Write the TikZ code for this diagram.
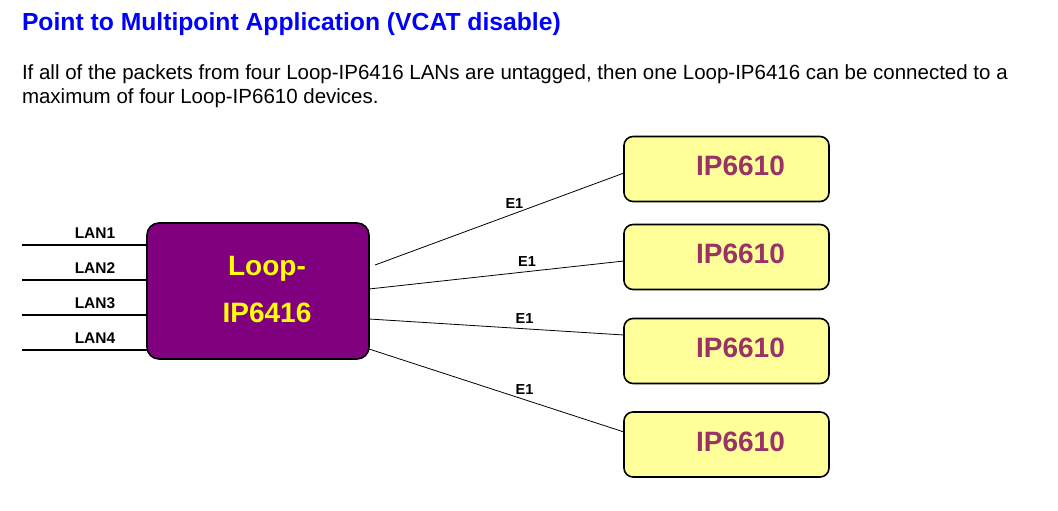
\documentclass[tikz,border=0pt]{standalone}
\usepackage{fontspec}
\setmainfont{Liberation Sans}
\usetikzlibrary{arrows,positioning}

\definecolor{titleblue}{RGB}{0,0,255}
\definecolor{loopviolet}{RGB}{128,0,128}
\definecolor{loopyellow}{RGB}{255,255,0}
\definecolor{ipyellow}{RGB}{255,255,153}
\definecolor{ipname}{RGB}{153,51,102}

\begin{document}
\begin{tikzpicture}[x=1pt,y=-1pt,
                    every node/.style={inner sep=0pt,outer sep=0pt},
                    loopbox/.style={draw,line width=1.6pt,rounded corners=12pt,fill=loopviolet,
                                    minimum width=222pt,minimum height=136pt},
                    ipbox/.style={draw,line width=1.6pt,rounded corners=9pt,fill=ipyellow,
                                  minimum width=205pt,minimum height=65pt},
                    iplabel/.style={text=ipname,font=\fontsize{28}{28}\selectfont\bfseries},
                    lanlabel/.style={anchor=base,font=\fontsize{15.5}{15.5}\selectfont\bfseries},
                    elabel/.style={above=5pt,font=\fontsize{14.5}{14.5}\selectfont\bfseries},
                    lanline/.style={line width=1.5pt},
                    eline/.style={line width=0.8pt}]
\useasboundingbox (0,0) rectangle (1058,511);

\node[anchor=base west,text=titleblue,font=\fontsize{24.7}{24.7}\selectfont\bfseries] (title) at (22,31)
  {Point to Multipoint Application (VCAT disable)};
\node[anchor=base west,font=\fontsize{20.5}{20.5}\selectfont] (intro1) at (22,80)
  {If all of the packets from four Loop-IP6416 LANs are untagged, then one Loop-IP6416 can be connected to a};
\node[anchor=base west,font=\fontsize{20.5}{20.5}\selectfont] (intro2) at (22,103.5)
  {maximum of four Loop-IP6610 devices.};

% main unit
\node[loopbox] (loop) at (258,291) {};
\node[text=loopyellow,align=center,font=\fontsize{28}{47}\selectfont\bfseries] (looptext) at (267,290)
  {Loop-\\IP6416};

% remote units
\node[ipbox] (ip1) at (726.5,169) {};
\node[ipbox] (ip2) at (726.5,257) {};
\node[ipbox] (ip3) at (726.5,351) {};
\node[ipbox] (ip4) at (726.5,444.5) {};
\node[iplabel] (ip1text) at ([xshift=14pt,yshift=3pt]ip1.center) {IP6610};
\node[iplabel] (ip2text) at ([xshift=14pt,yshift=3pt]ip2.center) {IP6610};
\node[iplabel] (ip3text) at ([xshift=14pt,yshift=3pt]ip3.center) {IP6610};
\node[iplabel] (ip4text) at ([xshift=14pt,yshift=3pt]ip4.center) {IP6610};

% LAN ports
\coordinate (lan1end) at (22,245);
\coordinate (lan2end) at (22,280);
\coordinate (lan3end) at (22,315);
\coordinate (lan4end) at (22,350);
\draw[lanline] (lan1end) -- (lan1end -| loop.west);
\draw[lanline] (lan2end) -- (lan2end -| loop.west);
\draw[lanline] (lan3end) -- (lan3end -| loop.west);
\draw[lanline] (lan4end) -- (lan4end -| loop.west);
\node[lanlabel] (lan1) at (95,238.5) {LAN1};
\node[lanlabel] (lan2) at (95,273.5) {LAN2};
\node[lanlabel] (lan3) at (95,308.5) {LAN3};
\node[lanlabel] (lan4) at (95,343.5) {LAN4};

% E1 links
\coordinate (e1start) at (375,265);
\draw[eline] (e1start) -- (ip1.west |- 0,173) node[elabel,pos=.56] {E1};
\draw[eline] (loop.east |- 0,289) -- (ip2.west |- 0,261) node[elabel,pos=.62] {E1};
\draw[eline] (loop.east |- 0,319) -- (ip3.west |- 0,335) node[elabel,pos=.61] {E1};
\draw[eline] (loop.east |- 0,349) -- (ip4.west |- 0,432) node[elabel,pos=.61] {E1};

\end{tikzpicture}
\end{document}
